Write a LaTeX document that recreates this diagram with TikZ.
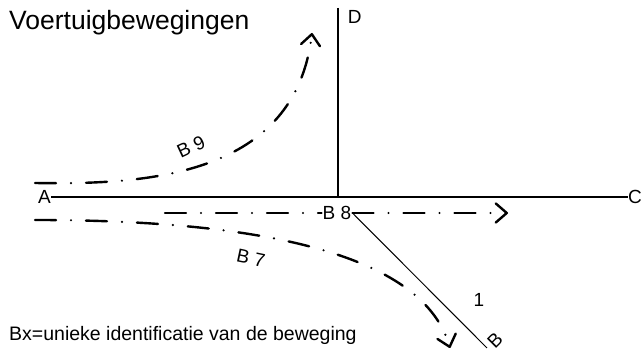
\documentclass[tikz,border=0pt]{standalone}
\usepackage{fontspec}
\setmainfont{Liberation Sans}
\usetikzlibrary{arrows.meta}

\begin{document}
\begin{tikzpicture}[x=1pt,y=1pt,yscale=-1,xscale=1,
    weg/.style={line width=1.4pt},
    zijweg/.style={line width=1pt},
    beweging/.style={line width=2.4pt, line cap=round, dash pattern=on 21pt off 15pt on 0pt off 15pt},
    pijl/.style={-{Straight Barb[round,length=11pt,width=19pt]}},
    tekst/.style={inner sep=0.75pt, font=\fontsize{19}{22}\selectfont}]
\useasboundingbox (0,0) rectangle (641,352);

% Text Node
\node [anchor=base west, inner sep=0pt, font=\fontsize{26.5}{30}\selectfont] (titel) at (9,30) {Voertuigbewegingen};
% Text Node
\node [tekst, anchor=east, inner sep=0pt] (A) at (51,197) {A};
% Text Node
\node [tekst, anchor=west, inner sep=0pt] (C) at (628,197) {C};
% Text Node
\node [tekst, anchor=north west] (D) at (347,9) {D};
% Text Node
\node [tekst, fill=white, inner sep=1pt] (B8) at (337,213) {B 8};
% Text Node
\node [tekst] (een) at (479,300) {1};
% Text Node
\node [tekst, rotate=45] (B) at (495,340) {B};
% Text Node
\node [tekst, rotate=25] (B9) at (191,147) {B 9};
% Text Node
\node [tekst, rotate=-12] (B7) at (251,258) {B 7};
% Text Node
\node [anchor=base west, inner sep=0pt, font=\fontsize{19.5}{23}\selectfont] (uitleg) at (9,341) {Bx=unieke identificatie van de beweging};

\coordinate (Dtop) at (338,8);
\coordinate (kruis) at (338,197);
\coordinate (Beind) at (487,348);

%Straight Lines
\draw [weg] (A.east) -- (C.west);
%Straight Lines
\draw [weg] (Dtop) -- (kruis);
%Straight Lines
\draw [zijweg] (B8.east) -- (Beind);

%Curve Lines
\draw [beweging, pijl] (35,183) .. controls (150,185) and (295,175) .. (312,33);
%Curve Lines
\draw [beweging, pijl] (35,220) .. controls (230,220) and (420,245) .. (450,348);
%Straight Lines
\draw [beweging] (165,213) -- (B8.west);
\draw [beweging, pijl] (B8.east) -- (508,213);
\end{tikzpicture}
\end{document}
